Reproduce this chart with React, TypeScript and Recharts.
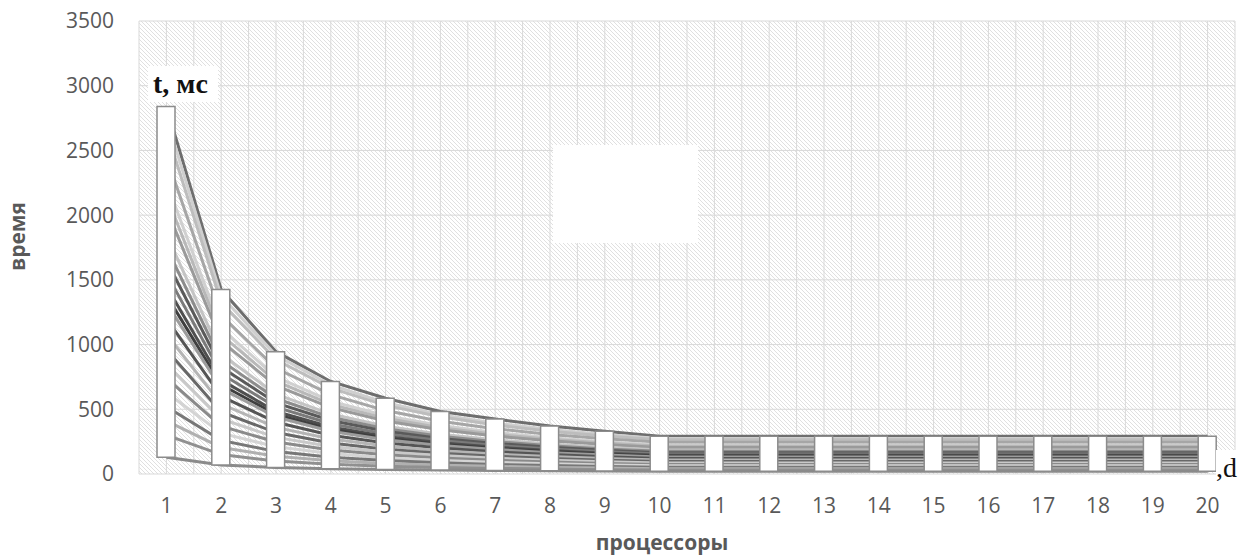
import { Bar, CartesianGrid, ComposedChart, Line, XAxis, YAxis } from "recharts";

const processors = [1, 2, 3, 4, 5, 6, 7, 8, 9, 10, 11, 12, 13, 14, 15, 16, 17, 18, 19, 20];
const yTicks = [0, 500, 1000, 1500, 2000, 2500, 3000, 3500];

// one run per line, time in ms for 1..20 processors
const run01 = [2840, 1425, 945, 715, 585, 483, 425, 370, 330, 292, 292, 292, 292, 292, 292, 292, 292, 292, 292, 292];
const run02 = [2750, 1375, 917, 688, 550, 458, 393, 344, 306, 275, 275, 275, 275, 275, 275, 275, 275, 275, 275, 275];
const run03 = [2650, 1325, 883, 663, 530, 442, 379, 331, 294, 265, 265, 265, 265, 265, 265, 265, 265, 265, 265, 265];
const run04 = [2450, 1225, 817, 613, 490, 408, 350, 306, 272, 245, 245, 245, 245, 245, 245, 245, 245, 245, 245, 245];
const run05 = [2250, 1125, 750, 563, 450, 375, 321, 281, 250, 225, 225, 225, 225, 225, 225, 225, 225, 225, 225, 225];
const run06 = [2150, 1075, 717, 538, 430, 358, 307, 269, 239, 215, 215, 215, 215, 215, 215, 215, 215, 215, 215, 215];
const run07 = [2050, 1025, 683, 513, 410, 342, 293, 256, 228, 205, 205, 205, 205, 205, 205, 205, 205, 205, 205, 205];
const run08 = [1850, 925, 617, 463, 370, 308, 264, 231, 206, 185, 185, 185, 185, 185, 185, 185, 185, 185, 185, 185];
const run09 = [1750, 875, 583, 438, 350, 292, 250, 219, 194, 175, 175, 175, 175, 175, 175, 175, 175, 175, 175, 175];
const run10 = [1650, 825, 550, 413, 330, 275, 236, 206, 183, 165, 165, 165, 165, 165, 165, 165, 165, 165, 165, 165];
const run11 = [1550, 775, 517, 388, 310, 258, 221, 194, 172, 155, 155, 155, 155, 155, 155, 155, 155, 155, 155, 155];
const run12 = [1450, 725, 483, 363, 290, 242, 207, 181, 161, 145, 145, 145, 145, 145, 145, 145, 145, 145, 145, 145];
const run13 = [1380, 690, 460, 345, 276, 230, 197, 173, 153, 138, 138, 138, 138, 138, 138, 138, 138, 138, 138, 138];
const run14 = [1320, 660, 440, 330, 264, 220, 189, 165, 147, 132, 132, 132, 132, 132, 132, 132, 132, 132, 132, 132];
const run15 = [1200, 600, 400, 300, 240, 200, 171, 150, 133, 120, 120, 120, 120, 120, 120, 120, 120, 120, 120, 120];
const run16 = [1080, 540, 360, 270, 216, 180, 154, 135, 120, 108, 108, 108, 108, 108, 108, 108, 108, 108, 108, 108];
const run17 = [960, 480, 320, 240, 192, 160, 137, 120, 107, 96, 96, 96, 96, 96, 96, 96, 96, 96, 96, 96];
const run18 = [850, 425, 283, 213, 170, 142, 121, 106, 94, 85, 85, 85, 85, 85, 85, 85, 85, 85, 85, 85];
const run19 = [740, 370, 247, 185, 148, 123, 106, 93, 82, 74, 74, 74, 74, 74, 74, 74, 74, 74, 74, 74];
const run20 = [630, 315, 210, 158, 126, 105, 90, 79, 70, 63, 63, 63, 63, 63, 63, 63, 63, 63, 63, 63];
const run21 = [520, 260, 173, 130, 104, 87, 74, 65, 58, 52, 52, 52, 52, 52, 52, 52, 52, 52, 52, 52];
const run22 = [410, 205, 137, 103, 82, 68, 59, 51, 46, 41, 41, 41, 41, 41, 41, 41, 41, 41, 41, 41];
const run23 = [300, 150, 100, 75, 60, 50, 43, 38, 33, 30, 30, 30, 30, 30, 30, 30, 30, 30, 30, 30];
const run24 = [130, 70, 50, 40, 35, 30, 28, 26, 24, 22, 22, 22, 22, 22, 22, 22, 22, 22, 22, 22];

const runs = [
  run01, run02, run03, run04, run05, run06, run07, run08, run09, run10, run11, run12,
  run13, run14, run15, run16, run17, run18, run19, run20, run21, run22, run23, run24,
];

const runColors = [
  "#6e6e6e", "#cfcfcf", "#bdbdbd", "#a6a6a6", "#d0d0d0", "#b8b8b8", "#9a9a9a", "#c4c4c4",
  "#8c8c8c", "#5a5a5a", "#7a7a7a", "#4f4f4f", "#3f3f3f", "#9c9c9c", "#555555", "#b5b5b5",
  "#686868", "#c9c9c9", "#8a8a8a", "#d4d4d4", "#777777", "#b0b0b0", "#909090", "#8a8a8a",
];

const rows = processors.map((p, i) => {
  const row: Record<string, number | number[]> = { p };
  runs.forEach((r, k) => (row[`r${k}`] = r[i]));
  row.range = [run24[i], run01[i]];
  return row;
});

const font = "'Open Sans', sans-serif";
const tickStyle = { fill: "#595959", fontSize: 21, fontFamily: font };
const titleStyle = { fill: "#595959", fontSize: 21, fontWeight: 700, fontFamily: font };

const YTitle = ({ viewBox }: any) => {
  const x = viewBox.x + 17;
  const y = viewBox.y + viewBox.height / 2 - 11;
  return (
    <text x={x} y={y} transform={`rotate(-90, ${x}, ${y})`} textAnchor="middle" dominantBaseline="central" style={titleStyle}>
      время
    </text>
  );
};

const XTitle = ({ viewBox }: any) => {
  const x = viewBox.x + viewBox.width / 2 - 25;
  return (
    <text x={x} y={550} textAnchor="middle" style={titleStyle}>
      процессоры
    </text>
  );
};

export default function App() {
  return (
    <div style={{ position: "absolute", left: 0, top: 0, width: 1248, height: 556, background: "#fff" }}>
      <ComposedChart width={1248} height={556} data={rows} margin={{ top: 21, right: 13, bottom: 0, left: 0 }}>
        <defs>
          <pattern id="hatch" width="4" height="4" patternUnits="userSpaceOnUse">
            <rect width="4" height="4" fill="#ffffff" />
            <path d="M-1,-1 L5,5 M-1,3 L1,5 M3,-1 L5,1" stroke="#e0e0e0" strokeWidth={1} />
          </pattern>
        </defs>
        <CartesianGrid
          fill="url(#hatch)"
          stroke="#d9d9d9"
          verticalCoordinatesGenerator={({ offset }: any) =>
            Array.from({ length: 41 }, (_, i) => offset.left + (i * offset.width) / 40)
          }
        />
        <XAxis
          dataKey="p"
          axisLine={false}
          tickLine={false}
          tick={tickStyle}
          tickMargin={18}
          height={82}
          label={{ content: XTitle }}
        />
        <YAxis
          domain={[0, 3500]}
          ticks={yTicks}
          axisLine={false}
          tickLine={false}
          tick={tickStyle}
          tickMargin={19}
          width={139}
          label={{ content: YTitle }}
        />
        {runs.map((_, k) => (
          <Line
            key={k}
            type="linear"
            dataKey={`r${k}`}
            stroke={runColors[k]}
            strokeWidth={3}
            dot={false}
            activeDot={false}
            isAnimationActive={false}
          />
        ))}
        <Bar
          dataKey="range"
          barSize={18}
          fill="#ffffff"
          stroke="#8c8c8c"
          strokeWidth={1.5}
          zIndex={450}
          isAnimationActive={false}
        />
      </ComposedChart>
      <div
        style={{
          position: "absolute", left: 148, top: 66, width: 70, height: 36, background: "#fff",
          fontFamily: "'Liberation Serif', serif", fontWeight: 700, fontSize: 28, lineHeight: "36px", paddingLeft: 5,
          boxSizing: "border-box", color: "#111", whiteSpace: "nowrap",
        }}
      >
        t, мс
      </div>
      <div style={{ position: "absolute", left: 553, top: 145, width: 145, height: 98, background: "#fff" }} />
      <div
        style={{
          position: "absolute", left: 1216, top: 450, width: 32, height: 36, background: "#fff",
          fontFamily: "'Liberation Serif', serif", fontSize: 28, lineHeight: "36px", color: "#111", whiteSpace: "nowrap",
        }}
      >
        ,d
      </div>
    </div>
  );
}
